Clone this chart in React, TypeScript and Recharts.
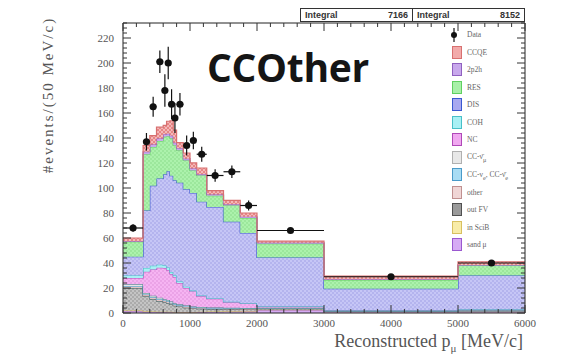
import { ComposedChart, Area, Scatter, ErrorBar, XAxis, YAxis, ReferenceLine } from 'recharts'

// variable-width bins in reconstructed muon momentum (MeV/c)
const EDGES = [0, 300, 400, 500, 600, 650, 700, 750, 800, 900, 1000, 1100, 1250, 1500, 1750, 2000, 3000, 5000, 6000]

// MC contributions per bin, events / (50 MeV/c)
const SAND_MU = [1.5, 1, 1, 0.8, 0.8, 0.7, 0.7, 0.6, 0.6, 0.6, 0.6, 0.8, 1, 1.2, 1.5, 2.5, 1, 1]
const IN_SCIB = [0.5, 0.4, 0.3, 0.3, 0.3, 0.3, 0.3, 0.2, 0.2, 0.2, 0.2, 0.2, 0.2, 0.2, 0.2, 0.2, 0.1, 0.1]
const OUT_FV = [18, 12, 10, 8.5, 7.5, 7, 6, 5, 4.5, 3.5, 3, 2.5, 2, 1.8, 1.3, 0.8, 0.4, 0.4]
const OTHER = [1, 1, 1, 1, 1, 1, 0.8, 0.8, 0.7, 0.6, 0.5, 0.5, 0.4, 0.3, 0.3, 0.3, 0.1, 0.2]
const CC_NUE = [0.5, 0.4, 0.4, 0.4, 0.4, 0.4, 0.4, 0.4, 0.3, 0.3, 0.3, 0.3, 0.3, 0.3, 0.3, 0.2, 0.1, 0.2]
const CC_NUMUBAR = [1.5, 1.2, 1.2, 1.2, 1.1, 1, 1, 0.9, 0.8, 0.8, 0.7, 0.6, 0.5, 0.4, 0.4, 0.3, 0.2, 0.3]
const NC = [5, 17, 21, 24, 25, 24, 22, 21, 17, 14, 12, 8.5, 7, 4.5, 3.7, 1, 0.5, 0.7]
const COH = [2, 3, 3, 2.5, 2, 2, 1.6, 1.4, 1.2, 1, 0.8, 0.6, 0.5, 0.4, 0.3, 0.2, 0.1, 0.1]
const DIS = [15, 46, 64, 69, 73, 77, 77, 76, 79, 78, 78, 75, 73, 64, 56, 39, 17, 27]
const RES = [12, 45, 31, 30, 30, 28, 30, 28, 26, 23, 18, 21, 9, 13, 12, 11, 7, 8]
const TWO_P2H = [0.5, 2, 2, 2, 2, 2, 2, 2, 1.5, 1.5, 1.5, 1, 1, 1, 1, 0.8, 0.5, 0.5]
const CCQE = [2.5, 5, 7, 9, 7, 10, 12, 10, 4.5, 4.5, 4.5, 5, 3, 3, 3, 1.2, 2.5, 2.5]

// data points per bin
const DATA_Y = [68, 137, 165, 201, 178, 200, 167, 156, 167, 134, 138, 127, 110, 113, 86, 66, 29, 40]
const DATA_ERR = [3, 7, 8, 9, 13, 13, 12, 12, 9, 8, 7, 6, 5, 5, 4, 2, 1, 2]

// axis ranges and tick spacing
const X_MAX = 6000
const Y_MAX = 232
const X_MINOR = Array.from({ length: 31 }, (_, i) => i * 200)
const Y_MINOR = Array.from({ length: 59 }, (_, i) => i * 4)

// plot frame in px (follows from the chart margins + axis sizes)
const LEFT = 123
const RIGHT = 525
const TOP = 23
const BOTTOM = 313

// stack order: bottom first
const SERIES = [
  { key: 'sandMu', vals: SAND_MU, fill: '#d6abf4', stroke: '#9a58d0' },
  { key: 'inSciB', vals: IN_SCIB, fill: '#f8eca8', stroke: '#d8c060' },
  { key: 'outFV', vals: OUT_FV, fill: 'url(#pOutFV)', stroke: '#2f5454' },
  { key: 'other', vals: OTHER, fill: '#f0d6d6', stroke: '#c09090' },
  { key: 'ccNue', vals: CC_NUE, fill: '#a8dcf4', stroke: '#4a9ac8' },
  { key: 'ccNumubar', vals: CC_NUMUBAR, fill: '#e6e6e6', stroke: '#3c8080' },
  { key: 'nc', vals: NC, fill: 'url(#pNC)', stroke: '#b048b8' },
  { key: 'coh', vals: COH, fill: '#a8f0f4', stroke: '#48c0c8' },
  { key: 'dis', vals: DIS, fill: 'url(#pDIS)', stroke: '#3a58d0' },
  { key: 'res', vals: RES, fill: 'url(#pRES)', stroke: '#60d060' },
  { key: 'twoP2h', vals: TWO_P2H, fill: '#c8a8ec', stroke: '#9060c0' },
  { key: 'ccqe', vals: CCQE, fill: 'url(#pCCQE)', stroke: '#d87070' },
]

const NBINS = EDGES.length - 1
const rows = EDGES.map((x, i) => {
  const b = Math.min(i, NBINS - 1)
  const r: Record<string, number> = { x }
  SERIES.forEach(s => { r[s.key] = s.vals[b] })
  return r
})

const points = DATA_Y.map((y, i) => ({
  x: (EDGES[i] + EDGES[i + 1]) / 2,
  y,
  ex: (EDGES[i + 1] - EDGES[i]) / 2,
  ey: DATA_ERR[i],
}))

const LEGEND = [
  { label: <>CCQE</>, fill: '#f2aaaa', edge: '#d87070' },
  { label: <>2p2h</>, fill: '#c8a8ec', edge: '#9060c0' },
  { label: <>RES</>, fill: '#a8f0a8', edge: '#60d060' },
  { label: <>DIS</>, fill: '#a8a8f0', edge: '#3a58d0' },
  { label: <>COH</>, fill: '#a8f0f4', edge: '#48c0c8' },
  { label: <>NC</>, fill: '#f0a8f0', edge: '#b048b8' },
  { label: <>CC-ν̄<sub>μ</sub></>, fill: '#e8e8e8', edge: '#b0b0b0' },
  { label: <>CC-ν<sub>e</sub>, CC-ν̄<sub>e</sub></>, fill: '#a8dcf4', edge: '#4a9ac8' },
  { label: <>other</>, fill: '#f0d6d6', edge: '#c09090' },
  { label: <>out FV</>, fill: '#9a9a9a', edge: '#505050' },
  { label: <>in SciB</>, fill: '#f8eca8', edge: '#d8c060' },
  { label: <>sand μ</>, fill: '#d6abf4', edge: '#9a58d0' },
]

const serif = '"Liberation Serif", "DejaVu Serif", serif'
const TICK_COLOR = '#333'

// ROOT-style ticks: inside the frame on both sides, labels only on majors
function YTick(props: { y?: number; payload?: { value: number } }) {
  const { y = 0, payload } = props
  const v = payload ? payload.value : 0
  const major = v % 20 === 0
  const len = major ? 8 : 4
  return (
    <g>
      <line x1={LEFT} x2={LEFT + len} y1={y} y2={y} stroke={TICK_COLOR} />
      <line x1={RIGHT} x2={RIGHT - len} y1={y} y2={y} stroke={TICK_COLOR} />
      {major && (
        <text x={LEFT - 9} y={y} dy="0.35em" textAnchor="end" fontFamily={serif} fontSize={11} fill="#555">{v}</text>
      )}
    </g>
  )
}

function XTick(props: { x?: number; payload?: { value: number } }) {
  const { x = 0, payload } = props
  const v = payload ? payload.value : 0
  const major = v % 1000 === 0
  const len = major ? 8 : 4
  return (
    <g>
      <line x1={x} x2={x} y1={BOTTOM} y2={BOTTOM - len} stroke={TICK_COLOR} />
      <line x1={x} x2={x} y1={TOP} y2={TOP + len} stroke={TICK_COLOR} />
      {major && (
        <text x={x} y={BOTTOM + 14} textAnchor="middle" fontFamily={serif} fontSize={11} fill="#555">{v}</text>
      )}
    </g>
  )
}

function Dot(props: { cx?: number; cy?: number }) {
  const { cx = 0, cy = 0 } = props
  return <circle cx={cx} cy={cy} r={3.6} fill="#111" />
}

function DotPattern({ id, bg, dot }: { id: string; bg: string; dot: string }) {
  return (
    <pattern id={id} width={4} height={4} patternUnits="userSpaceOnUse">
      <rect width={4} height={4} fill={bg} />
      <circle cx={1} cy={1} r={0.7} fill={dot} />
      <circle cx={3} cy={3} r={0.7} fill={dot} />
    </pattern>
  )
}

export default function App() {
  return (
    <div style={{ position: 'absolute', left: 0, top: 0, width: 561, height: 356, background: '#fff', overflow: 'hidden' }}>
      <ComposedChart width={561} height={356} data={rows} margin={{ top: TOP, right: 561 - RIGHT, bottom: 23, left: LEFT - 30 }}>
        <defs>
          <DotPattern id="pDIS" bg="#c6c6f6" dot="#9494e2" />
          <DotPattern id="pRES" bg="#acf2ac" dot="#80d480" />
          <DotPattern id="pNC" bg="#f6b4f2" dot="#d884d4" />
          <DotPattern id="pOutFV" bg="#c4c4c4" dot="#808080" />
          <pattern id="pCCQE" width={4} height={4} patternUnits="userSpaceOnUse">
            <rect width={4} height={4} fill="#f4b8b8" />
            <path d="M0 4 L4 0 M0 0 L4 4" stroke="#e07070" strokeWidth={0.7} />
          </pattern>
        </defs>

        {SERIES.map(s => (
          <Area
            key={s.key}
            dataKey={s.key}
            stackId="mc"
            type="stepAfter"
            fill={s.fill}
            fillOpacity={1}
            stroke={s.stroke}
            strokeWidth={1.2}
            isAnimationActive={false}
          />
        ))}

        <Scatter data={points} dataKey="y" shape={<Dot />} isAnimationActive={false}>
          <ErrorBar dataKey="ey" direction="y" width={0} stroke="#111" strokeWidth={1.2} />
          <ErrorBar dataKey="ex" direction="x" width={0} stroke="#111" strokeWidth={1.2} />
        </Scatter>

        {/* top and right edges of the frame */}
        <ReferenceLine y={Y_MAX} stroke="#222" />
        <ReferenceLine x={X_MAX} stroke="#222" />

        <XAxis type="number" dataKey="x" domain={[0, X_MAX]} ticks={X_MINOR} interval={0} height={20} tickLine={false} axisLine={{ stroke: '#222' }} tick={<XTick />} />
        <YAxis type="number" domain={[0, Y_MAX]} ticks={Y_MINOR} interval={0} width={30} tickLine={false} axisLine={{ stroke: '#222' }} tick={<YTick />} allowDataOverflow />
      </ComposedChart>

      {/* integral boxes */}
      <div style={{ position: 'absolute', left: 300, top: 8, width: 225, height: 14, display: 'flex', border: '1px solid #333', boxSizing: 'border-box', fontFamily: '"Liberation Sans", Arial, sans-serif', fontWeight: 700, fontSize: 9, color: '#333', background: '#fff' }}>
        <div style={{ flex: 1, display: 'flex', justifyContent: 'space-between', alignItems: 'center', padding: '0 4px', borderRight: '1px solid #333' }}>
          <span>Integral</span><span>7166</span>
        </div>
        <div style={{ flex: 1, display: 'flex', justifyContent: 'space-between', alignItems: 'center', padding: '0 4px' }}>
          <span>Integral</span><span>8152</span>
        </div>
      </div>

      {/* big sample title */}
      <div style={{ position: 'absolute', left: 207, top: 47, fontFamily: '"Open Sans", sans-serif', fontWeight: 700, fontSize: 39, letterSpacing: -0.3, color: '#151515', lineHeight: 1 }}>
        CCOther
      </div>

      {/* legend */}
      <div style={{ position: 'absolute', left: 446, top: 26, fontFamily: serif, fontSize: 7.5, color: '#666' }}>
        <div style={{ height: 17.5, display: 'flex', alignItems: 'center' }}>
          <svg width={16} height={14} style={{ marginRight: 5 }}>
            <line x1={8} y1={0} x2={8} y2={14} stroke="#111" strokeWidth={1.2} />
            <circle cx={8} cy={7} r={3} fill="#111" />
          </svg>
          <span>Data</span>
        </div>
        {LEGEND.map((l, i) => (
          <div key={i} style={{ height: 17.5, display: 'flex', alignItems: 'center' }}>
            <div style={{ width: 10, height: 13, margin: '0 5px 0 6px', background: l.fill, border: `1px solid ${l.edge}`, boxSizing: 'border-box' }} />
            <span>{l.label}</span>
          </div>
        ))}
      </div>

      {/* axis titles */}
      <div style={{ position: 'absolute', left: 48, top: 95, transform: 'translate(-50%, -50%) rotate(-90deg)', whiteSpace: 'nowrap', fontFamily: serif, fontSize: 15, letterSpacing: 2, color: '#555' }}>
        #events/(50 MeV/c)
      </div>
      <div style={{ position: 'absolute', right: 38, top: 331, whiteSpace: 'nowrap', fontFamily: serif, fontSize: 18, lineHeight: '20px', color: '#555' }}>
        Reconstructed p<sub style={{ fontSize: 11, lineHeight: 0 }}>μ</sub> [MeV/c]
      </div>
    </div>
  )
}
